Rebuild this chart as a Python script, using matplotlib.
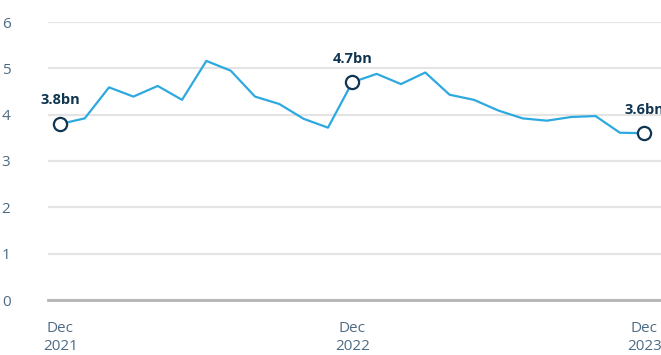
import matplotlib
matplotlib.use("Agg")
import matplotlib.pyplot as plt
import numpy as np

# monthly values, Dec 2021 .. Dec 2023 (bn)
values = [
    3.8, 3.92, 4.59, 4.39, 4.62, 4.32, 5.16, 4.95, 4.39, 4.23, 3.91, 3.72,
    4.7, 4.88, 4.66, 4.91, 4.43, 4.32, 4.09, 3.92, 3.87, 3.95, 3.97, 3.61,
    3.6,
]
tick_pos = [0, 12, 24]
tick_labels = ["Dec\n2021", "Dec\n2022", "Dec\n2023"]
highlight = [0, 12, 24]
highlight_labels = ["3.8bn", "4.7bn", "3.6bn"]

line_color = "#2ea9df"
navy = "#0f3550"
tick_color = "#4d6b84"

plt.rcParams["font.family"] = ["Open Sans", "DejaVu Sans"]

fig = plt.figure(figsize=(6.61, 3.55), dpi=100)
W, H = 661, 355
# axes box in pixels: left 48, right 661, bottom 300, top 22
ax = fig.add_axes([48 / W, (H - 300) / H, (661 - 48) / W, (300 - 22) / H])

x = np.arange(len(values))
ax.plot(x, values, color=line_color, lw=1.6, zorder=3, clip_on=False)

for i, lab in zip(highlight, highlight_labels):
    ax.plot(x[i], values[i], "o", ms=9.5, mfc="white", mec=navy, mew=1.6,
            zorder=4, clip_on=False)
    ax.annotate(lab, (x[i], values[i]), xytext=(0, 17), textcoords="offset points",
                ha="center", va="center", fontsize=10.5, fontweight="bold",
                color=navy, annotation_clip=False)

ax.set_xlim(-0.51, 24.69)
ax.set_ylim(0, 6)
ax.set_yticks(range(0, 7))
ax.set_xticks(tick_pos)
ax.set_xticklabels(tick_labels, linespacing=1.25)

ax.grid(axis="y", color="#e4e4e4", lw=1.6)
ax.set_axisbelow(True)
ax.axhline(0, color="#b4b4b4", lw=2, zorder=2, clip_on=False)
for s in ax.spines.values():
    s.set_visible(False)
ax.tick_params(axis="both", length=0, labelsize=11, colors=tick_color)
ax.tick_params(axis="y", pad=27)
ax.tick_params(axis="x", pad=15)

fig.savefig("out.png", dpi=100)
